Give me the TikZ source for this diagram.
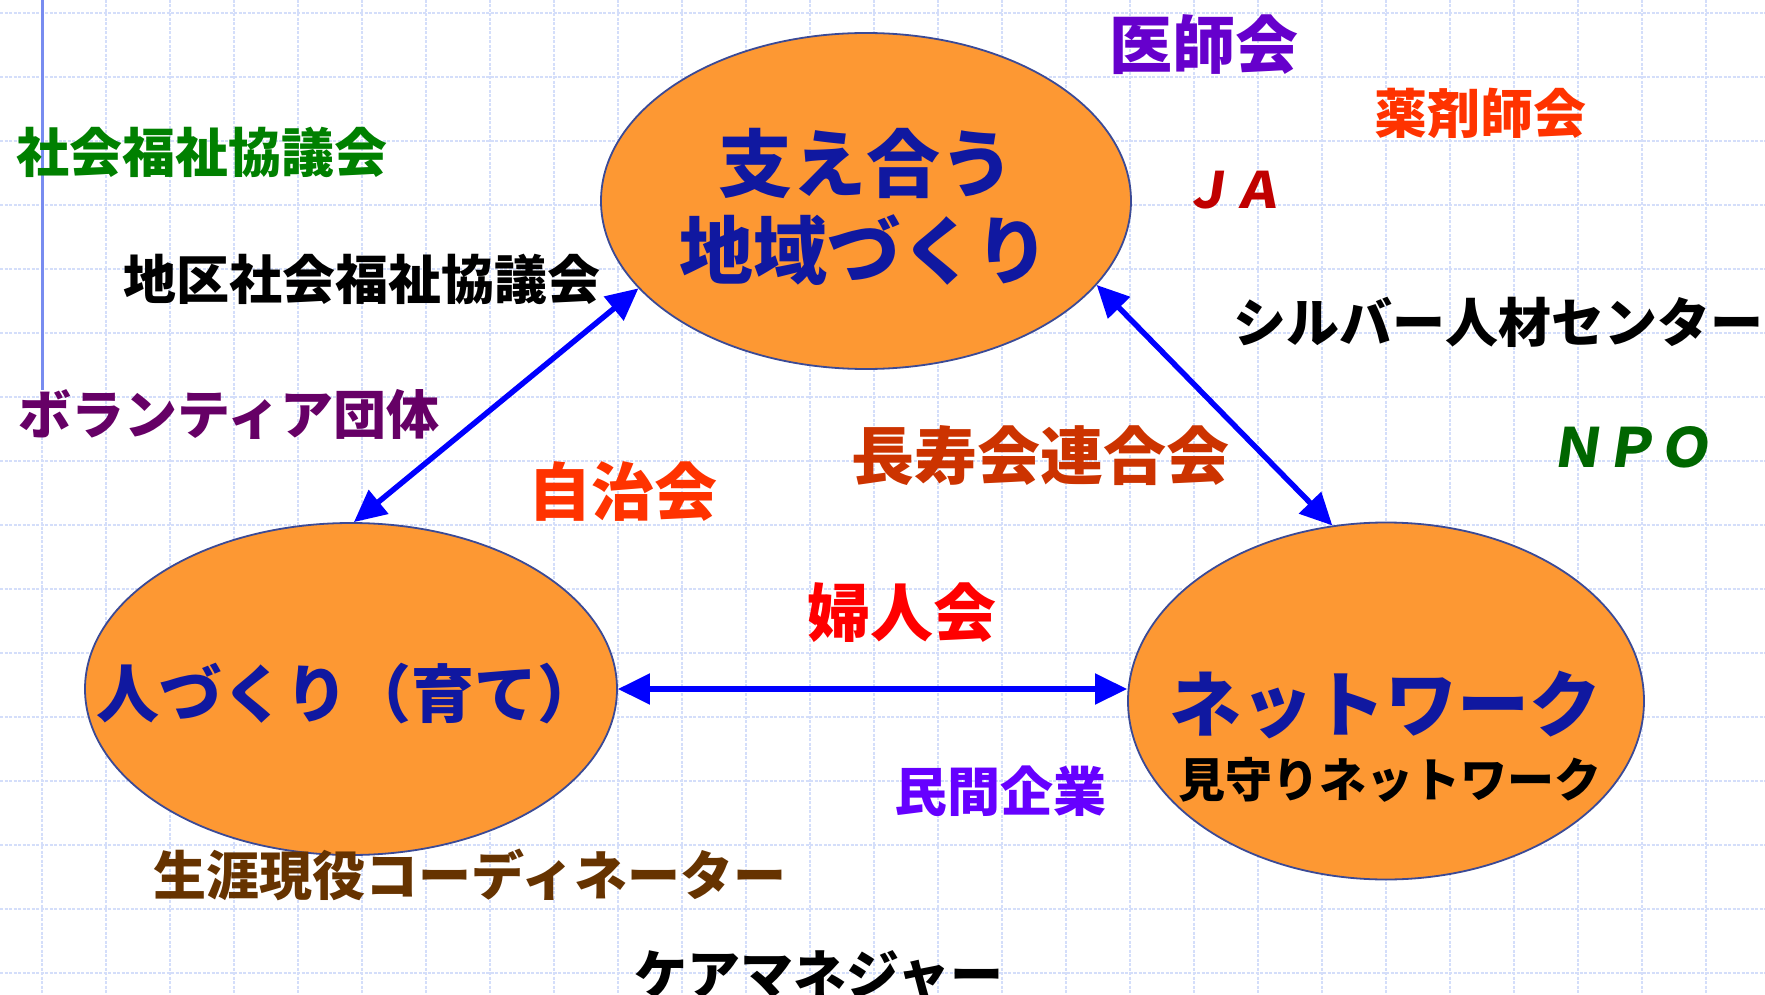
\documentclass[tikz,border=0pt]{standalone}
\usepackage{fontspec}
\setmainfont{Noto Sans CJK JP}
\newfontfamily\jpslant{Noto Sans CJK JP}[FakeSlant=0.15]
\usetikzlibrary{shapes.geometric,arrows.meta}
\definecolor{gridc}{RGB}{212,222,250}
\definecolor{leftc}{RGB}{120,140,240}
\definecolor{orangef}{RGB}{253,152,51}
\definecolor{ellb}{RGB}{59,74,150}
\definecolor{navy}{RGB}{16,24,160}
\definecolor{arrc}{RGB}{0,0,255}
\definecolor{cgreen}{RGB}{0,128,0}
\definecolor{cdgreen}{RGB}{0,102,0}
\definecolor{cplum}{RGB}{102,0,102}
\definecolor{cviolet}{RGB}{102,0,204}
\definecolor{cviolet2}{RGB}{102,0,255}
\definecolor{corange}{RGB}{255,51,0}
\definecolor{cbrick}{RGB}{204,51,0}
\definecolor{cdred}{RGB}{192,0,0}
\definecolor{cred}{RGB}{255,0,0}
\definecolor{cbrown}{RGB}{102,51,0}
\newcommand\fsz[1]{\fontsize{#1}{#1}\selectfont}
\begin{document}
\begin{tikzpicture}[x=1pt,y=-1pt,
  gridline/.style={draw=gridc,line width=1.8pt,dash pattern=on 3pt off 1.5pt},
  ell/.style={ellipse,draw=ellb,line width=1.8pt,fill=orangef,inner sep=0pt},
  arr/.style={draw=arrc,line width=5.5pt,{Triangle[length=32pt,width=30pt]}-{Triangle[length=32pt,width=30pt]}},
  lbl/.style={inner sep=0pt,anchor=center,font=\bfseries\fsz{#1}},
  lbl/.default=53]
\useasboundingbox (0,0) rectangle (1765,995);
\fill[white] (0,0) rectangle (1765,995);
% grid
\foreach \k in {0,...,15} {\draw[gridline] (0,13+64*\k) -- (1765,13+64*\k);}
\foreach \k in {0,...,26} {\draw[gridline] (42+64*\k,0) -- (42+64*\k,995);}
% left rule
\coordinate (ltop) at (42,0);
\coordinate (lbot) at (42,390);
\draw[leftc,line width=3pt] (ltop) -- (lbot);
% ellipses
\node[ell,minimum width=530pt,minimum height=336pt] (T) at (866,201) {};
\node[ell,minimum width=532pt,minimum height=332pt] (L) at (351,689) {};
\node[ell,minimum width=516pt,minimum height=357pt] (R) at (1386,701) {};
% arrows
\draw[arr] (T.201) -- (L.89);
\draw[arr] (T.340) -- (R.107);
\draw[arr] (L.east) -- (L.east -| R.west);
% ellipse texts
\node[lbl=74,text=navy] (t1) at (866,163) {支え合う};
\node[lbl=74,text=navy] (t2) at (864,250) {地域づくり};
\node[lbl=63,text=navy] (l1) at (348,694) {人づくり（育て）};
\node[lbl=72,text=navy] (r1) at (1385,705) {ネットワーク};
\node[lbl=47,text=black] (r2) at (1390,780) {見守りネットワーク};
% surrounding texts
\node[lbl=63,text=cviolet] (ishi) at (1204,45) {医師会};
\node[lbl=53,text=corange] (yaku) at (1480,113) {薬剤師会};
\node[lbl=50,text=cdred,font=\jpslant\bfseries\fsz{50}] (ja) at (1232,190) {ＪＡ};
\node[lbl=53,text=black] (silver) at (1498,322) {シルバー人材センター};
\node[lbl=54,text=cdgreen,font=\jpslant\bfseries\fsz{54}] (npo) at (1630,447) {ＮＰＯ};
\node[lbl=53,text=cgreen] (shakyo) at (202,152) {社会福祉協議会};
\node[lbl=53,text=black] (chiku) at (362,279) {地区社会福祉協議会};
\node[lbl=53,text=cplum] (vol) at (229,414) {ボランティア団体};
\node[lbl=63,text=corange] (jichi) at (623,491) {自治会};
\node[lbl=63,text=cbrick] (choju) at (1040,456) {長寿会連合会};
\node[lbl=63,text=cred] (fujin) at (902,613) {婦人会};
\node[lbl=53,text=cviolet2] (minkan) at (1000,791) {民間企業};
\node[lbl=53,text=cbrown] (shogai) at (470,875) {生涯現役コーディネーター};
\node[lbl=53,text=black] (care) at (819,975) {ケアマネジャー};
\end{tikzpicture}
\end{document}
